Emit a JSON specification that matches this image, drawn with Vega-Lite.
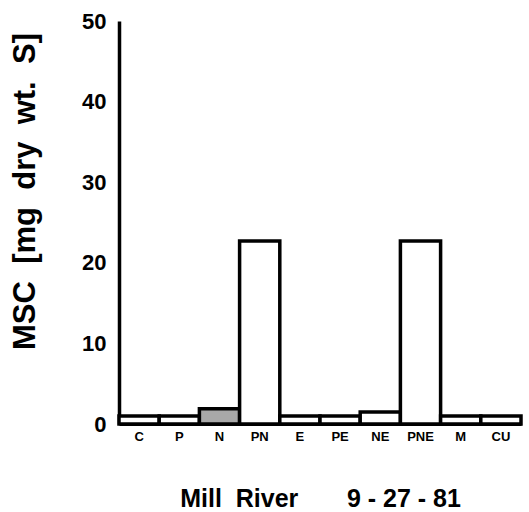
{
  "$schema": "https://vega.github.io/schema/vega-lite/v6.json",
  "width": 402,
  "height": 403,
  "autosize": {"type": "none"},
  "padding": {"left": 119, "top": 21, "right": 8, "bottom": 88},
  "background": "white",
  "config": {
    "view": {"stroke": null},
    "font": "Liberation Sans"
  },
  "data": {
    "values": [
      {"treatment": "C", "msc": 1.0, "shade": "open"},
      {"treatment": "P", "msc": 1.0, "shade": "open"},
      {"treatment": "N", "msc": 1.9, "shade": "dotted"},
      {"treatment": "PN", "msc": 22.7, "shade": "open"},
      {"treatment": "E", "msc": 1.0, "shade": "open"},
      {"treatment": "PE", "msc": 1.0, "shade": "open"},
      {"treatment": "NE", "msc": 1.5, "shade": "open"},
      {"treatment": "PNE", "msc": 22.7, "shade": "open"},
      {"treatment": "M", "msc": 1.0, "shade": "open"},
      {"treatment": "CU", "msc": 1.0, "shade": "open"}
    ]
  },
  "mark": {"type": "bar", "stroke": "black", "strokeWidth": 3.5},
  "encoding": {
    "x": {
      "field": "treatment",
      "type": "nominal",
      "sort": null,
      "scale": {"paddingInner": 0, "paddingOuter": 0},
      "axis": {
        "title": "Mill\u00a0\u00a0River\u00a0\u00a0\u00a0\u00a0\u00a0\u00a0\u00a09\u00a0-\u00a027\u00a0-\u00a081",
        "labelAngle": 0,
        "labelFontSize": 13,
        "labelFontWeight": 900,
        "labelColor": "black",
        "labelPadding": 6,
        "ticks": false,
        "domain": true,
        "domainColor": "black",
        "domainWidth": 3,
        "titleFontSize": 25,
        "titleFontWeight": 900,
        "titleColor": "black",
        "titlePadding": 43
      }
    },
    "y": {
      "field": "msc",
      "type": "quantitative",
      "scale": {"domain": [0, 50]},
      "axis": {
        "title": "MSC\u00a0\u00a0[mg\u00a0\u00a0dry\u00a0\u00a0wt.\u00a0\u00a0S]",
        "values": [0, 10, 20, 30, 40, 50],
        "grid": false,
        "ticks": false,
        "labelFontSize": 22,
        "labelFontWeight": 900,
        "labelColor": "black",
        "labelPadding": 13,
        "domainColor": "black",
        "domainWidth": 3.5,
        "titleFontSize": 31,
        "titleFontWeight": 900,
        "titleColor": "black",
        "titleAngle": -90,
        "titleAlign": "center",
        "titleBaseline": "middle",
        "titleX": -94,
        "titleY": 170
      }
    },
    "fill": {
      "field": "shade",
      "type": "nominal",
      "scale": {"domain": ["open", "dotted"], "range": ["white", "#a8a8a8"]},
      "legend": null
    }
  }
}
